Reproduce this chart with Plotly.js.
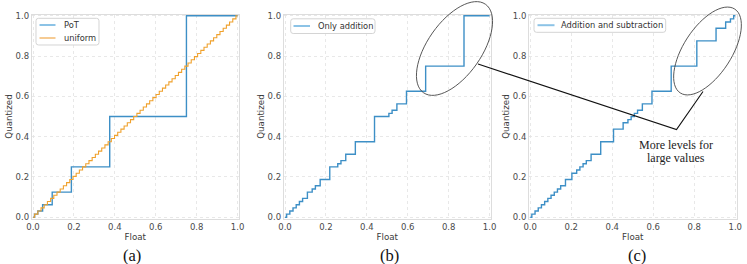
<!DOCTYPE html>
<html><head><meta charset="utf-8">
<script src="https://cdn.plot.ly/plotly-3.0.1.min.js"></script>
<style>html,body{margin:0;padding:0;background:#fff;}#chart{width:747px;height:264px;}</style>
</head><body><div id="chart"></div>
<script>
// ---------- data (step functions: x = switching points, y = quantized level) ----------
const potX = [0, 1/128, 3/128, 3/64, 3/32, 3/16, 3/8, 3/4, 1];
const potY = [0, 1/64, 1/32, 1/16, 1/8, 1/4, 1/2, 1, 1];

const uniformX = [0, 1/128, 3/128, 5/128, 7/128, 9/128, 11/128, 13/128, 15/128, 17/128, 19/128, 21/128, 23/128, 25/128, 27/128, 29/128, 31/128,
  33/128, 35/128, 37/128, 39/128, 41/128, 43/128, 45/128, 47/128, 49/128, 51/128, 53/128, 55/128, 57/128, 59/128, 61/128, 63/128,
  65/128, 67/128, 69/128, 71/128, 73/128, 75/128, 77/128, 79/128, 81/128, 83/128, 85/128, 87/128, 89/128, 91/128, 93/128, 95/128,
  97/128, 99/128, 101/128, 103/128, 105/128, 107/128, 109/128, 111/128, 113/128, 115/128, 117/128, 119/128, 121/128, 123/128, 125/128, 127/128, 1];
const uniformY = [0, 1/64, 2/64, 3/64, 4/64, 5/64, 6/64, 7/64, 8/64, 9/64, 10/64, 11/64, 12/64, 13/64, 14/64, 15/64, 16/64,
  17/64, 18/64, 19/64, 20/64, 21/64, 22/64, 23/64, 24/64, 25/64, 26/64, 27/64, 28/64, 29/64, 30/64, 31/64, 32/64,
  33/64, 34/64, 35/64, 36/64, 37/64, 38/64, 39/64, 40/64, 41/64, 42/64, 43/64, 44/64, 45/64, 46/64, 47/64, 48/64,
  49/64, 50/64, 51/64, 52/64, 53/64, 54/64, 55/64, 56/64, 57/64, 58/64, 59/64, 60/64, 61/64, 62/64, 63/64, 64/64, 1];

const addX = [0, 1/128, 3/128, 5/128, 7/128, 9/128, 11/128, 14/128, 17/128, 19/128, 22/128, 28/128, 33/128, 35/128, 38/128, 44/128,
  56/128, 65/128, 67/128, 70/128, 76/128, 88/128, 112/128, 1];
const addY = [0, 1/64, 2/64, 3/64, 4/64, 5/64, 6/64, 8/64, 9/64, 10/64, 12/64, 16/64, 17/64, 18/64, 20/64, 24/64,
  32/64, 33/64, 34/64, 36/64, 40/64, 48/64, 64/64, 1];

const addSubX = [0, 1/128, 3/128, 5/128, 7/128, 9/128, 11/128, 13/128, 15/128, 17/128, 19/128, 22/128, 26/128, 29/128, 31/128, 33/128,
  35/128, 38/128, 44/128, 52/128, 58/128, 61/128, 63/128, 65/128, 67/128, 70/128, 76/128, 88/128, 104/128, 116/128, 122/128, 125/128, 127/128, 1];
const addSubY = [0, 1/64, 2/64, 3/64, 4/64, 5/64, 6/64, 7/64, 8/64, 9/64, 10/64, 12/64, 14/64, 15/64, 16/64, 17/64,
  18/64, 20/64, 24/64, 28/64, 30/64, 31/64, 32/64, 33/64, 34/64, 36/64, 40/64, 48/64, 56/64, 60/64, 62/64, 63/64, 64/64, 1];

const tickVals = [0, 0.2, 0.4, 0.6, 0.8, 1.0];
const tickText = ['0.0', '0.2', '0.4', '0.6', '0.8', '1.0'];
const panelLabels = ['(a)', '(b)', '(c)'];
const legendLabels = [['PoT', 'uniform'], ['Only addition'], ['Addition and subtraction']];
const xTitle = 'Float';
const yTitle = 'Quantized';
const noteLines = ['More levels for', 'large values'];

// ---------- styling / layout ----------
const W = 747, H = 264;
const BLUE = '#3d8fc6', ORANGE = '#f0a12c';
const BLUE_LEG = '#8cc3e6', ORANGE_LEG = '#f0a84a';
const px = x => x / W, py = y => 1 - y / H;

const xDom = [[31.8, 238.8], [283.8, 490.8], [529, 736.5]];
const yDom = [14.5, 218.5];
const tickFont = {family: 'DejaVu Sans', size: 8.5, color: '#4a4a4a'};
const titleFont = {family: 'DejaVu Sans', size: 8.7, color: '#3a3a3a'};
const serif = 'Liberation Serif, Times New Roman, serif';

function xAxis(i) {
  return {
    domain: [px(xDom[i][0]), px(xDom[i][1])], anchor: i ? 'y' + (i + 1) : 'y',
    range: [-0.006, 1.006], tickvals: tickVals, ticktext: tickText, ticks: '',
    showgrid: true, gridcolor: '#e2e2e2', griddash: 'dot', gridwidth: 0.8,
    showline: true, mirror: true, linecolor: '#dddddd', linewidth: 1, zeroline: false,
    tickfont: tickFont, automargin: false, fixedrange: true,
    title: {text: xTitle, font: titleFont, standoff: 3}
  };
}
function yAxis(i) {
  return {
    domain: [py(yDom[1]), py(yDom[0])], anchor: i ? 'x' + (i + 1) : 'x',
    range: [-0.006, 1.006], tickvals: tickVals, ticktext: tickText, ticks: '',
    showgrid: true, gridcolor: '#e2e2e2', griddash: 'dot', gridwidth: 0.8,
    showline: true, mirror: true, linecolor: '#dddddd', linewidth: 1, zeroline: false,
    tickfont: tickFont, automargin: false, fixedrange: true,
    title: {text: yTitle, font: titleFont, standoff: 1}
  };
}

const traces = [
  {x: potX, y: potY, xaxis: 'x', yaxis: 'y', name: legendLabels[0][0], mode: 'lines', line: {shape: 'hv', color: BLUE, width: 1.4}, showlegend: false},
  {x: uniformX, y: uniformY, xaxis: 'x', yaxis: 'y', name: legendLabels[0][1], mode: 'lines', line: {shape: 'hv', color: ORANGE, width: 1.1}, showlegend: false},
  {x: addX, y: addY, xaxis: 'x2', yaxis: 'y2', name: legendLabels[1][0], mode: 'lines', line: {shape: 'hv', color: BLUE, width: 1.4}, showlegend: false},
  {x: addSubX, y: addSubY, xaxis: 'x3', yaxis: 'y3', name: legendLabels[2][0], mode: 'lines', line: {shape: 'hv', color: BLUE, width: 1.4}, showlegend: false}
];

// helpers for pixel-space decorations
function P(x, y) { return px(x).toFixed(5) + ',' + py(y).toFixed(5); }
function roundRect(x0, y0, x1, y1, r) {
  return 'M' + P(x0 + r, y0) + ' L' + P(x1 - r, y0) + ' Q' + P(x1, y0) + ' ' + P(x1, y0 + r) +
    ' L' + P(x1, y1 - r) + ' Q' + P(x1, y1) + ' ' + P(x1 - r, y1) +
    ' L' + P(x0 + r, y1) + ' Q' + P(x0, y1) + ' ' + P(x0, y1 - r) +
    ' L' + P(x0, y0 + r) + ' Q' + P(x0, y0) + ' ' + P(x0 + r, y0) + ' Z';
}
function ellipsePath(cx, cy, a, b, deg) {
  const t = deg * Math.PI / 180, k = 0.5523;
  const u = [Math.cos(t), Math.sin(t)], v = [-Math.sin(t), Math.cos(t)];
  const pt = s => [cx + a * Math.cos(s) * u[0] + b * Math.sin(s) * v[0], cy + a * Math.cos(s) * u[1] + b * Math.sin(s) * v[1]];
  const dp = s => [-a * Math.sin(s) * u[0] + b * Math.cos(s) * v[0], -a * Math.sin(s) * u[1] + b * Math.cos(s) * v[1]];
  let p0 = pt(0), d = 'M' + P(p0[0], p0[1]);
  for (let q = 0; q < 4; q++) {
    const s0 = q * Math.PI / 2, s1 = (q + 1) * Math.PI / 2;
    const a0 = pt(s0), a1 = pt(s1), d0 = dp(s0), d1 = dp(s1);
    d += ' C' + P(a0[0] + k * d0[0], a0[1] + k * d0[1]) + ' ' + P(a1[0] - k * d1[0], a1[1] - k * d1[1]) + ' ' + P(a1[0], a1[1]);
  }
  return d + ' Z';
}

const shapes = [];
const annotations = [];

// custom legends (compact matplotlib-style)
const legendBoxes = [
  {box: [36, 18.3, 99, 45], rows: [25, 38], sw: [39.5, 55.5], tx: 62.5, colors: [BLUE_LEG, ORANGE_LEG], widths: [2, 1.2]},
  {box: [290.7, 18.8, 375, 33.5], rows: [26], sw: [293.5, 310], tx: 317, colors: [BLUE_LEG], widths: [2]},
  {box: [534, 18.3, 665.7, 32.3], rows: [25.2], sw: [537.5, 554.5], tx: 560, colors: [BLUE_LEG], widths: [2]}
];
legendBoxes.forEach((L, i) => {
  shapes.push({type: 'path', xref: 'paper', yref: 'paper', layer: 'above', path: roundRect(L.box[0], L.box[1], L.box[2], L.box[3], 2.5),
    line: {color: '#d4d4d4', width: 1}, fillcolor: 'rgba(255,255,255,0.85)'});
  L.rows.forEach((ry, j) => {
    shapes.push({type: 'line', xref: 'paper', yref: 'paper', layer: 'above', x0: px(L.sw[0]), x1: px(L.sw[1]), y0: py(ry), y1: py(ry),
      line: {color: L.colors[j], width: L.widths[j]}});
    annotations.push({xref: 'paper', yref: 'paper', x: px(L.tx), y: py(ry), xanchor: 'left', yanchor: 'middle', showarrow: false,
      text: legendLabels[i][j], font: {family: 'DejaVu Sans', size: 8.3, color: '#333'}, borderpad: 0});
  });
});

// panel labels
const labelX = [132, 389, 637];
panelLabels.forEach((t, i) => annotations.push({xref: 'paper', yref: 'paper', x: px(labelX[i]), y: py(255.5), xanchor: 'center', yanchor: 'middle',
  showarrow: false, text: t, font: {family: serif, size: 16.5, color: '#111'}}));

// ellipses + pointer line + note
shapes.push({type: 'path', xref: 'paper', yref: 'paper', layer: 'above', path: ellipsePath(454.5, 48.5, 54, 27, -55), line: {color: '#444', width: 0.9}});
shapes.push({type: 'path', xref: 'paper', yref: 'paper', layer: 'above', path: ellipsePath(707.5, 51, 50, 24, -57), line: {color: '#444', width: 0.9}});
shapes.push({type: 'path', xref: 'paper', yref: 'paper', layer: 'above', path: 'M' + P(478, 64) + ' L' + P(676.5, 129.5) + ' L' + P(703, 91.5),
  line: {color: '#111', width: 1.1}});
[145, 158.3].forEach((yy, i) => annotations.push({xref: 'paper', yref: 'paper', x: px(676), y: py(yy), xanchor: 'center', yanchor: 'middle',
  showarrow: false, text: noteLines[i], font: {family: serif, size: 12, color: '#222'}}));

const layout = {
  width: W, height: H, margin: {l: 0, r: 0, t: 0, b: 0}, paper_bgcolor: '#fff', plot_bgcolor: '#fff', showlegend: false,
  xaxis: xAxis(0), yaxis: yAxis(0), xaxis2: xAxis(1), yaxis2: yAxis(1), xaxis3: xAxis(2), yaxis3: yAxis(2),
  shapes: shapes, annotations: annotations
};
Plotly.newPlot('chart', traces, layout, {staticPlot: true, displayModeBar: false});
</script></body></html>
